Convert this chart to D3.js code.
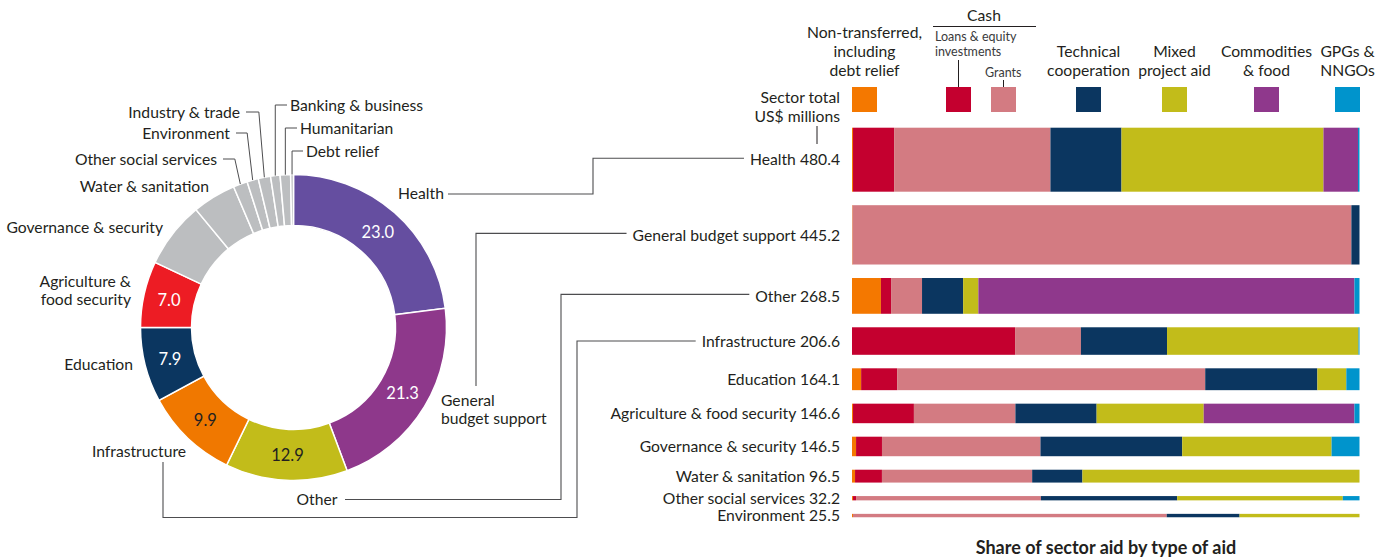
<!DOCTYPE html>
<html><head><meta charset="utf-8">
<script src="https://cdn.jsdelivr.net/npm/d3@7"></script>
<style>
body{margin:0;background:#fff;}
svg text{font-family:Lato,"Liberation Sans",sans-serif;fill:#231f20;}
</style></head><body>
<svg id="chart" width="1389" height="560"></svg>
<script>
// ---------- DATA ----------
const donutSectors = ["Health","General budget support","Other","Infrastructure","Education",
  "Agriculture & food security","Governance & security","Water & sanitation","Other social services",
  "Environment","Industry & trade","Banking & business","Humanitarian","Debt relief"];
const donutShares = [23.0,21.3,12.9,9.9,7.9,7.0,7.0,4.6,1.5,1.2,1.3,1.0,1.1,0.3];
const donutValueLabels = ["23.0","21.3","12.9","9.9","7.9","7.0"];

const barSectors = ["Health","General budget support","Other","Infrastructure","Education",
  "Agriculture & food security","Governance & security","Water & sanitation","Other social services","Environment"];
const sectorTotals = [480.4,445.2,268.5,206.6,164.1,146.6,146.5,96.5,32.2,25.5];

const aidTypes = ["nonTransferred","loans","grants","technical","mixed","commodities","gpgs"];
const nonTransferred = [0.2,0.1,5.7,0,1.8,0.2,0.8,0.6,0.2,0.2];
const loans          = [8.1,0,2.0,32.2,7.1,12.0,5.1,5.3,0.6,0];
const grants         = [30.8,98.3,6.1,13.0,60.7,20.0,31.2,29.6,36.5,62.0];
const technical      = [14.0,1.6,8.1,17.0,22.1,16.0,27.9,9.9,26.9,14.4];
const mixed          = [39.8,0,3.0,37.8,5.7,21.1,29.4,54.6,32.7,23.7];
const commodities    = [6.8,0,74.1,0,0,29.7,0,0,0,0];
const gpgs           = [0.3,0,1.0,0.2,2.6,1.0,5.5,0,3.3,0];
const legendLabels = [["Non-transferred,","including","debt relief"],[],[],["Technical","cooperation"],
  ["Mixed","project aid"],["Commodities","& food"],["GPGs &","NNGOs"]];

// ---------- STYLES ----------
const donutColors = ["#654ea0","#8e388b","#c2bc1a","#f07800","#0b3660","#ed1c24",
  "#bcbec0","#bcbec0","#bcbec0","#bcbec0","#bcbec0","#bcbec0","#bcbec0","#bcbec0"];
const valueColors = ["#fff","#fff","#231f20","#231f20","#fff","#fff"];
const typeColors = {nonTransferred:"#f47800",loans:"#c4002f",grants:"#d37b82",technical:"#0b3660",
  mixed:"#c2bc1a",commodities:"#8f388c",gpgs:"#0094cc"};
const leaderColor = "#4d4d4f";
const FS = 15.7;

const svg = d3.select("#chart");

// ---------- DONUT ----------
const cx = 293.5, cy = 327.5, rOut = 153, rIn = 102;
const pie = d3.pie().sort(null).value(d=>d.v);
const arcs = pie(donutSectors.map((s,i)=>({s, v:donutShares[i], i})));
const arc = d3.arc().innerRadius(rIn).outerRadius(rOut);
const g = svg.append("g").attr("transform",`translate(${cx},${cy})`);
g.selectAll("path").data(arcs).join("path")
  .attr("d",arc).attr("fill",d=>donutColors[d.data.i])
  .attr("stroke","#fff").attr("stroke-width",1.5);
g.selectAll("text.val").data(arcs.filter(d=>d.data.i<donutValueLabels.length)).join("text")
  .attr("class","val")
  .attr("transform",d=>`translate(${arc.centroid(d)})`)
  .attr("text-anchor","middle").attr("dy","0.36em")
  .style("font-size","16.5px").style("fill",d=>valueColors[d.data.i])
  .text(d=>donutValueLabels[d.data.i]);

// donut category labels (layout positions)
const donutLabelPos = {
  "Health":{x:398,y:193,a:"start"},
  "General budget support":{x:441,y:400,a:"start",lines:["General","budget support"]},
  "Other":{x:317,y:499,a:"middle"},
  "Infrastructure":{x:139,y:451,a:"middle"},
  "Education":{x:133,y:364,a:"end"},
  "Agriculture & food security":{x:131,y:281,a:"end",lines:["Agriculture &","food security"]},
  "Governance & security":{x:163,y:227,a:"end"},
  "Water & sanitation":{x:209,y:186,a:"end"},
  "Other social services":{x:217,y:159,a:"end",leader:true},
  "Environment":{x:230,y:133,a:"end",leader:true},
  "Industry & trade":{x:240,y:112,a:"end",leader:true},
  "Banking & business":{x:290,y:105,a:"start",leader:true},
  "Humanitarian":{x:300,y:128,a:"start",leader:true},
  "Debt relief":{x:306,y:151,a:"start",leader:true}
};
const lab = svg.append("g");
arcs.forEach(d=>{
  const p = donutLabelPos[d.data.s];
  const lines = p.lines || [d.data.s];
  const t = lab.append("text").attr("x",p.x).attr("y",p.y).attr("text-anchor",p.a)
    .style("font-size",FS+"px");
  lines.forEach((l,k)=>t.append("tspan").attr("x",p.x).attr("dy",k===0?"0.36em":"1.2em").text(l));
  if(p.leader){
    const mid = (d.startAngle+d.endAngle)/2;
    const ax = cx + rOut*Math.sin(mid), ay = cy - rOut*Math.cos(mid);
    let pts;
    if(p.a==="end"){
      pts = [[p.x+6,p.y],[ax-5.5,p.y],[ax,ay]];
    } else {
      pts = [[p.x-3,p.y],[ax,p.y],[ax,ay]];
    }
    lab.append("path").attr("d",d3.line()(pts)).attr("fill","none")
      .attr("stroke",leaderColor).attr("stroke-width",1);
  }
});

// ---------- STACKED BARS ----------
const rows = barSectors.map((s,i)=>({sector:s,total:sectorTotals[i],
  nonTransferred:nonTransferred[i],loans:loans[i],grants:grants[i],technical:technical[i],
  mixed:mixed[i],commodities:commodities[i],gpgs:gpgs[i]}));
const series = d3.stack().keys(aidTypes).offset(d3.stackOffsetExpand)(rows);
const x = d3.scaleLinear().domain([0,1]).range([852,1359.5]);
const hScale = d3.scaleLinear().domain([0,d3.max(sectorTotals)]).range([0,64]);
const gap = 13.5, top0 = 127.7;
const yTop = []; let acc = top0;
rows.forEach((r,i)=>{ yTop.push(acc); acc += hScale(r.total)+gap; });

const bars = svg.append("g");
series.forEach(s=>{
  bars.append("g").attr("fill",typeColors[s.key]).selectAll("rect")
    .data(s.filter(d=>d[1]-d[0]>0)).join("rect")
    .attr("x",d=>x(d[0])).attr("width",d=>x(d[1])-x(d[0]))
    .attr("y",d=>yTop[rows.indexOf(d.data)]).attr("height",d=>hScale(d.data.total));
});

const barLabels = svg.append("g");
const labelNodes = rows.map((r,i)=>{
  const yc = yTop[i]+hScale(r.total)/2;
  return barLabels.append("text").attr("x",840).attr("y",yc).attr("dy","0.36em")
    .attr("text-anchor","end").style("font-size",FS+"px")
    .text(r.sector+" "+d3.format(".1f")(r.total)).node();
});
function labStart(i){ return 840 - labelNodes[i].getComputedTextLength(); }
function yMid(i){ return yTop[i]+hScale(rows[i].total)/2 - 1.5; }

// leaders donut -> bars
const leaders = svg.append("g").attr("fill","none").attr("stroke",leaderColor).attr("stroke-width",1.1);
leaders.append("path").attr("d",d3.line()([[448,194],[593,194],[593,yMid(0)],[labStart(0)-6,yMid(0)]]));
leaders.append("path").attr("d",d3.line()([[476,386],[476,yMid(1)],[labStart(1)-6,yMid(1)]]));
leaders.append("path").attr("d",d3.line()([[345,499.5],[561,499.5],[561,yMid(2)],[labStart(2)-6,yMid(2)]]));
leaders.append("path").attr("d",d3.line()([[163,462],[163,517.5],[577,517.5],[577,yMid(3)+1.5],[labStart(3)-6,yMid(3)+1.5]]));

// ---------- LEGEND ----------
const swX = [852,946,991,1076,1162,1254,1335], swY = 87, sw = 25;
const leg = svg.append("g");
aidTypes.forEach((k,i)=>{
  leg.append("rect").attr("x",swX[i]).attr("y",swY).attr("width",sw).attr("height",sw).attr("fill",typeColors[k]);
  const lines = legendLabels[i];
  const n = lines.length;
  lines.forEach((l,j)=>{
    leg.append("text").attr("x",swX[i]+sw/2).attr("y",70-(n-1-j)*19).attr("dy","0.36em")
      .attr("text-anchor","middle").style("font-size",FS+"px").text(l);
  });
});
// Cash group
leg.append("text").attr("x",984).attr("y",15).attr("dy","0.36em").attr("text-anchor","middle")
  .style("font-size",FS+"px").text("Cash");
leg.append("line").attr("x1",933).attr("x2",1036).attr("y1",26.5).attr("y2",26.5).attr("stroke","#231f20").attr("stroke-width",1);
leg.append("text").attr("x",935).attr("y",36).attr("dy","0.36em").style("font-size","12.5px").style("fill","#3a3a3c").text("Loans & equity");
leg.append("text").attr("x",935).attr("y",51).attr("dy","0.36em").style("font-size","12.5px").style("fill","#3a3a3c").text("investments");
leg.append("text").attr("x",985).attr("y",72).attr("dy","0.36em").style("font-size","12.5px").style("fill","#3a3a3c").text("Grants");
leg.append("line").attr("x1",swX[1]+sw/2).attr("x2",swX[1]+sw/2).attr("y1",60).attr("y2",swY).attr("stroke","#231f20");
leg.append("line").attr("x1",swX[2]+sw/2).attr("x2",swX[2]+sw/2).attr("y1",80).attr("y2",swY).attr("stroke","#231f20");
// Sector total
leg.append("text").attr("x",840).attr("y",97).attr("dy","0.36em").attr("text-anchor","end").style("font-size",FS+"px").text("Sector total");
leg.append("text").attr("x",840).attr("y",116).attr("dy","0.36em").attr("text-anchor","end").style("font-size",FS+"px").text("US$ millions");
leg.append("line").attr("x1",817).attr("x2",817).attr("y1",126).attr("y2",144).attr("stroke","#231f20");

// title
svg.append("text").attr("x",1106).attr("y",548).attr("dy","0.36em").attr("text-anchor","middle")
  .style("font-size","18px").style("font-weight","bold").text("Share of sector aid by type of aid");
</script>
</body></html>
